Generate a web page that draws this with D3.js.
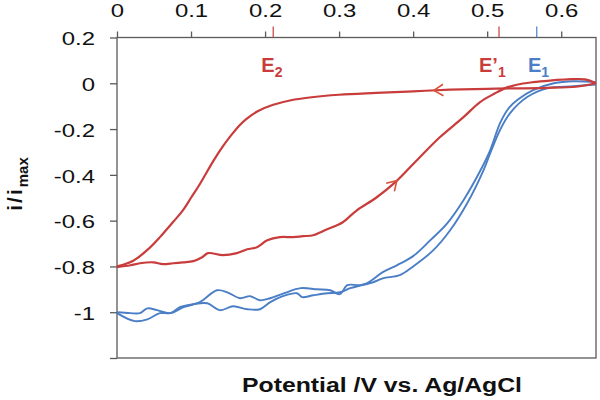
<!DOCTYPE html>
<html>
<head>
<meta charset="utf-8">
<script src="https://cdnjs.cloudflare.com/ajax/libs/d3/7.8.5/d3.min.js"></script>
<style>
  body { margin: 0; background: #fff; }
  svg { font-family: Arial, "Liberation Sans", sans-serif; }
</style>
</head>
<body>
<div id="chart"></div>
<script>
var width = 600, height = 400;

// Axis ticks and labels
var xTicks = [0, 0.1, 0.2, 0.3, 0.4, 0.5, 0.6];
var xTickLabels = ['0', '0.1', '0.2', '0.3', '0.4', '0.5', '0.6'];
var yTicks = [0.2, 0, -0.2, -0.4, -0.6, -0.8, -1, -1.2];
var yTickLabels = ['0.2', '0', '-0.2', '-0.4', '-0.6', '-0.8', '-1', ''];
var xMax = 0.647;

// Red CV, forward scan (0 -> 0.647 V)
var redFwdX = [0, 0.018, 0.031, 0.049, 0.062, 0.076, 0.089, 0.103, 0.115, 0.123, 0.143, 0.162, 0.176, 0.189,
  0.203, 0.22, 0.238, 0.251, 0.265, 0.278, 0.297, 0.305, 0.324, 0.35, 0.376, 0.409, 0.436, 0.468, 0.49,
  0.51, 0.527, 0.545, 0.562, 0.585, 0.608, 0.632, 0.647];
var redFwdY = [-0.803, -0.795, -0.786, -0.782, -0.79, -0.786, -0.782, -0.777, -0.76, -0.742, -0.751, -0.742,
  -0.725, -0.716, -0.686, -0.672, -0.672, -0.668, -0.664, -0.646, -0.62, -0.607, -0.555, -0.5, -0.432, -0.323,
  -0.236, -0.148, -0.083, -0.045, -0.018, -0.003, 0.005, 0.012, 0.017, 0.017, 0.0];

// Red CV, reverse scan (0.647 -> 0 V)
var redRevX = [0.647, 0.62, 0.58, 0.5, 0.45, 0.4, 0.35, 0.3, 0.26, 0.235, 0.211, 0.19, 0.175, 0.165, 0.153,
  0.142, 0.13, 0.112, 0.1, 0.089, 0.076, 0.058, 0.041, 0.022, 0];
var redRevY = [0.0, -0.015, -0.02, -0.024, -0.028, -0.035, -0.042, -0.05, -0.062, -0.074, -0.094, -0.122, -0.155,
  -0.185, -0.232, -0.28, -0.34, -0.44, -0.5, -0.555, -0.605, -0.672, -0.728, -0.775, -0.8];

// Blue CV, first trace
var blueAX = [0, 0.024, 0.041, 0.058, 0.072, 0.085, 0.103, 0.122, 0.139, 0.157, 0.176, 0.193, 0.207, 0.224,
  0.243, 0.25, 0.265, 0.284, 0.301, 0.315, 0.338, 0.359, 0.378, 0.4, 0.423, 0.446, 0.468, 0.491, 0.504,
  0.518, 0.53, 0.542, 0.562, 0.59, 0.617, 0.647];
var blueAY = [-1.004, -1.039, -1.031, -1.004, -1.004, -0.978, -0.965, -0.961, -0.991, -0.974, -0.987, -0.987,
  -0.956, -0.93, -0.917, -0.934, -0.926, -0.917, -0.913, -0.895, -0.873, -0.825, -0.795, -0.755, -0.686,
  -0.612, -0.511, -0.38, -0.293, -0.17, -0.105, -0.07, -0.03, 0.0, 0.009, 0.005];

// Blue CV, second trace
var blueBX = [0, 0.018, 0.031, 0.041, 0.054, 0.072, 0.09, 0.112, 0.135, 0.149, 0.166, 0.18, 0.193, 0.207,
  0.226, 0.248, 0.27, 0.288, 0.301, 0.311, 0.328, 0.346, 0.359, 0.382, 0.4, 0.427, 0.45, 0.473, 0.495,
  0.504, 0.518, 0.531, 0.554, 0.581, 0.617, 0.647];
var blueBY = [-1.0, -1.004, -1.004, -0.983, -0.991, -1.004, -0.978, -0.956, -0.904, -0.913, -0.939, -0.93,
  -0.948, -0.939, -0.917, -0.895, -0.9, -0.904, -0.921, -0.882, -0.882, -0.869, -0.852, -0.838, -0.8, -0.73,
  -0.642, -0.524, -0.38, -0.306, -0.2, -0.13, -0.06, -0.022, -0.013, -0.005];

// Potential markers on the top axis
var markerE = [0.211, 0.516, 0.567];
var markerMain = ['E', 'E\u2019', 'E'];
var markerSub = ['2', '1', '1'];
var markerColor = ['#c93c3c', '#c93c3c', '#4a7ec6'];
var markerLabelX = [0.195, 0.489, 0.555];

// Direction arrows on the red CV: [trace, x position]
var arrowTrace = ['fwd', 'rev'];
var arrowAtX = [0.378, 0.428];

var red = '#c93c3c', blue = '#4a7ec6', axisColor = '#5a5a5a';

var svg = d3.select('#chart')
    .append('svg')
    .attr('width', width)
    .attr('height', height);

var x = d3.scaleLinear().domain([0, xMax]).range([117, 596]);
var y = d3.scaleLinear().domain([-1.2, 0.2]).range([358, 37.5]);

// Top axis
var topAxis = svg.append('g')
    .attr('transform', 'translate(0,' + y(0.2) + ')')
    .call(d3.axisTop(x)
      .tickValues(xTicks)
      .tickSize(6)
      .tickSizeOuter(0)
      .tickFormat(function(d, i) { return xTickLabels[i]; }));
topAxis.select('.domain').remove();
topAxis.selectAll('line').attr('stroke', axisColor).attr('stroke-width', 1.3);
topAxis.selectAll('text')
    .attr('y', -20.5)
    .attr('dy', 0)
    .attr('font-size', 18)
    .attr('fill', '#111')
    .attr('font-family', 'Arial, "Liberation Sans", sans-serif')
    .attr('transform', 'scale(1.33,1)');

// Left axis
var leftAxis = svg.append('g')
    .attr('transform', 'translate(' + x(0) + ',0)')
    .call(d3.axisLeft(y)
      .tickValues(yTicks)
      .tickSize(7)
      .tickSizeOuter(0)
      .tickFormat(function(d, i) { return yTickLabels[i]; }));
leftAxis.select('.domain').remove();
leftAxis.selectAll('line').attr('stroke', axisColor).attr('stroke-width', 1.3);
leftAxis.selectAll('text')
    .attr('x', -16.5)
    .attr('dy', '0.4em')
    .attr('font-size', 18)
    .attr('fill', '#111')
    .attr('font-family', 'Arial, "Liberation Sans", sans-serif')
    .attr('transform', 'scale(1.33,1)');

// Plot frame
svg.append('rect')
    .attr('x', x(0))
    .attr('y', y(0.2))
    .attr('width', x(xMax) - x(0))
    .attr('height', y(-1.2) - y(0.2))
    .attr('fill', 'none')
    .attr('stroke', axisColor)
    .attr('stroke-width', 1.3);

// Marker ticks above the frame
svg.selectAll('line.marker')
    .data(markerE)
    .enter()
      .append('line')
        .attr('class', 'marker')
        .attr('x1', function(d) { return x(d); })
        .attr('x2', function(d) { return x(d); })
        .attr('y1', y(0.2) - 11)
        .attr('y2', y(0.2))
        .attr('stroke', function(d, i) { return markerColor[i]; })
        .attr('stroke-width', 1.2);

// Marker labels
var labels = svg.selectAll('text.marker')
    .data(markerE)
    .enter()
      .append('text')
        .attr('class', 'marker')
        .attr('x', function(d, i) { return x(markerLabelX[i]); })
        .attr('y', 72)
        .attr('fill', function(d, i) { return markerColor[i]; })
        .attr('font-weight', 'bold')
        .attr('font-size', 20);
labels.append('tspan').text(function(d, i) { return markerMain[i]; });
labels.append('tspan')
    .attr('font-size', 14)
    .attr('dy', 5)
    .text(function(d, i) { return markerSub[i]; });

// Curves
var line = d3.line()
    .x(function(d) { return x(d[0]); })
    .y(function(d) { return y(d[1]); })
    .curve(d3.curveCatmullRom.alpha(0.5));

var zip = function(xs, ys) { return xs.map(function(v, i) { return [v, ys[i]]; }); };

var traces = [
  { pts: zip(blueAX, blueAY), color: blue, w: 1.9 },
  { pts: zip(blueBX, blueBY), color: blue, w: 1.9 },
  { pts: zip(redRevX, redRevY), color: red, w: 2.2 },
  { pts: zip(redFwdX, redFwdY), color: red, w: 2.2 }
];

svg.selectAll('path.trace')
    .data(traces)
    .enter()
      .append('path')
        .attr('class', 'trace')
        .attr('d', function(d) { return line(d.pts); })
        .attr('fill', 'none')
        .attr('stroke', function(d) { return d.color; })
        .attr('stroke-width', function(d) { return d.w; })
        .attr('stroke-linejoin', 'round');

// Arrow heads showing scan direction.
var arrowPath = function(xs, ys, xv) {
  var i = 0;
  for (var k = 0; k < xs.length - 1; k++) {
    if ((xs[k] - xv) * (xs[k + 1] - xv) <= 0) { i = k; break; }
  }
  var t = (xv - xs[i]) / (xs[i + 1] - xs[i]);
  var px = x(xv), py = y(ys[i] + t * (ys[i + 1] - ys[i]));
  var ang = Math.atan2(y(ys[i + 1]) - y(ys[i]), x(xs[i + 1]) - x(xs[i]));
  var len = 11, spread = 0.55;
  var a1 = ang + Math.PI - spread, a2 = ang + Math.PI + spread;
  return 'M' + (px + len * Math.cos(a1)) + ',' + (py + len * Math.sin(a1))
    + 'L' + px + ',' + py
    + 'L' + (px + len * Math.cos(a2)) + ',' + (py + len * Math.sin(a2));
};

svg.selectAll('path.arrow')
    .data(arrowAtX)
    .enter()
      .append('path')
        .attr('class', 'arrow')
        .attr('d', function(d, i) {
          return arrowTrace[i] == 'fwd' ? arrowPath(redFwdX, redFwdY, d) : arrowPath(redRevX, redRevY, d);
        })
        .attr('fill', 'none')
        .attr('stroke', '#d9533a')
        .attr('stroke-width', 1.6);

// Axis titles
svg.append('text')
    .attr('x', 382)
    .attr('y', 392)
    .attr('text-anchor', 'middle')
    .attr('font-weight', 'bold')
    .attr('font-size', 20)
    .attr('fill', '#111')
    .attr('textLength', 280)
    .attr('lengthAdjust', 'spacingAndGlyphs')
    .text('Potential /V vs. Ag/AgCl');

var yTitle = svg.append('text')
    .attr('transform', 'translate(22,184) rotate(-90)')
    .attr('text-anchor', 'middle')
    .attr('font-weight', 'bold')
    .attr('font-size', 21)
    .attr('fill', '#111');
yTitle.append('tspan').attr('letter-spacing', 2).text('i/i');
yTitle.append('tspan').attr('font-size', 15).attr('dy', 6).text('max');
</script>
</body>
</html>
